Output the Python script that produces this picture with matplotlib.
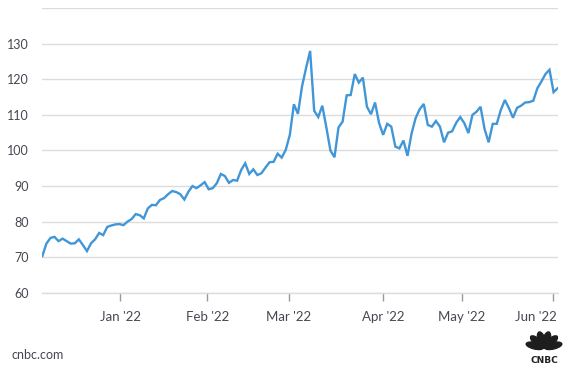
import numpy as np
import matplotlib
matplotlib.use("Agg")
import matplotlib.pyplot as plt
from matplotlib.patches import Ellipse
from matplotlib.transforms import ScaledTranslation

# Daily values, Dec '21 - Jun '22
values = [
    70.3, 73.8, 75.4, 75.7, 74.5, 75.2, 74.5, 73.8, 73.9, 75.0,
    73.4, 71.7, 73.9, 75.0, 76.8, 76.2, 78.5, 78.9, 79.2, 79.3,
    79.0, 80.0, 80.7, 82.1, 81.8, 80.9, 83.7, 84.7, 84.6, 86.1,
    86.6, 87.7, 88.6, 88.3, 87.7, 86.2, 88.4, 90.0, 89.4, 90.2,
    91.1, 89.1, 89.4, 90.8, 93.4, 92.8, 90.9, 91.7, 91.5, 94.5,
    96.4, 93.4, 94.7, 93.1, 93.6, 95.2, 96.7, 96.8, 99.1, 98.0,
    100.2, 104.4, 113.0, 110.3, 118.0, 123.2, 128.0, 111.2, 109.4, 112.6,
    106.5, 100.0, 98.1, 106.5, 108.1, 115.5, 115.6, 121.5, 119.1, 120.5,
    112.3, 110.2, 113.5, 107.7, 104.4, 107.5, 106.7, 101.1, 100.6, 102.8,
    98.5, 104.8, 109.1, 111.6, 113.1, 107.2, 106.7, 108.3, 106.7, 102.3,
    105.0, 105.4, 107.8, 109.4, 107.7, 104.9, 110.0, 110.9, 112.3, 106.0,
    102.3, 107.5, 107.5, 111.4, 114.2, 111.9, 109.2, 112.0, 112.6, 113.5,
    113.6, 114.0, 117.5, 119.4, 121.5, 122.7, 116.4, 117.5,
]
month_labels = ["Jan '22", "Feb '22", "Mar '22", "Apr '22", "May '22", "Jun '22"]
month_pos = [19.2, 40.7, 60.7, 83.9, 103.4, 125.9]
y_ticks = [60, 70, 80, 90, 100, 110, 120, 130, 140]

line_color = "#4196d7"
grid_color = "#dcdcdc"
text_color = "#474752"

plt.rcParams["font.family"] = ["Lato", "DejaVu Sans"]

fig = plt.figure(figsize=(5.79, 3.75), dpi=100)
ax = fig.add_axes([0.0731, 0.2195, 0.890, 0.7584])

x = np.arange(len(values))
ax.plot(x, values, color=line_color, lw=1.7, solid_joinstyle="miter", zorder=3)

ax.set_xlim(0, len(values) - 1)
ax.set_ylim(60, 140)
ax.set_yticks(y_ticks)
ax.set_yticklabels([str(v) if v < 140 else "" for v in y_ticks])
ax.grid(axis="y", color=grid_color, lw=1.0)
ax.set_axisbelow(True)

ax.set_xticks(month_pos)
ax.set_xticklabels(month_labels)
ax.tick_params(axis="x", length=6, width=1, color="#999999", pad=7,
               labelsize=9.5, labelcolor=text_color)
ax.tick_params(axis="y", length=0, pad=10, labelsize=9, labelcolor=text_color)

# last label kept inside the plot, like the original
last = ax.get_xticklabels()[-1]
last.set_horizontalalignment("right")
last.set_transform(last.get_transform() + ScaledTranslation(4 / 100, 0, fig.dpi_scale_trans))

for s in ["top", "right", "left"]:
    ax.spines[s].set_visible(False)
ax.spines["bottom"].set_color(grid_color)
ax.spines["bottom"].set_linewidth(1.0)

fig.text(11 / 579, 1 - 355 / 375, "cnbc.com", fontsize=9, color=text_color,
         va="center", ha="left")

# CNBC peacock logo (rough)
lax = fig.add_axes([523 / 579, 1 - 366 / 375, 42 / 579, 36 / 375])
lax.set_xlim(-1, 1)
lax.set_ylim(-0.9, 1.0)
lax.axis("off")
for ang in [-75, -45, -15, 15, 45, 75]:
    r = np.radians(ang)
    cx, cy = 0.45 * np.sin(r), 0.05 + 0.45 * np.cos(r)
    lax.add_patch(Ellipse((cx, cy), 0.34, 0.85, angle=-ang, color="#1e1e1e"))
lax.text(0, -0.62, "CNBC", ha="center", va="center", fontsize=6.5,
         fontweight="bold", color="#1e1e1e", family="DejaVu Sans")

fig.savefig("out.png", dpi=100)
